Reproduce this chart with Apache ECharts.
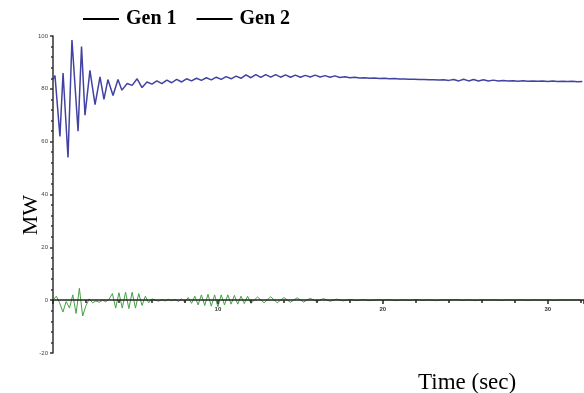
<!DOCTYPE html>
<html>
<head>
<meta charset="utf-8">
<script src="https://cdn.jsdelivr.net/npm/echarts@6/dist/echarts.min.js"></script>
<style>
  html, body { margin: 0; padding: 0; background: #fff; }
  #chart { width: 584px; height: 393px; }
</style>
</head>
<body>
<div id="chart"></div>
<script>
// Gen 1 (blue) - time in sec, power in MW
const gen1Time = [0, 0.12, 0.42, 0.61, 0.91, 1.15, 1.52, 1.73, 1.94, 2.24, 2.55, 2.85, 3.09, 3.33, 3.64, 3.94, 4.18,
  4.5, 4.8, 5.1, 5.4, 5.7, 6.0, 6.3, 6.6, 6.9, 7.2, 7.5, 7.8, 8.1, 8.4, 8.7, 9.0, 9.3, 9.6, 9.9, 10.2,
  10.5, 10.8, 11.1, 11.4, 11.7, 12.0, 12.3, 12.6, 12.9, 13.2, 13.5, 13.8, 14.1, 14.4, 14.7, 15.0,
  15.3, 15.6, 15.9, 16.2, 16.5, 16.8, 17.1, 17.4, 17.7, 18.0, 18.3, 18.6, 18.9, 19.2, 19.5, 19.8,
  20.1, 20.4, 20.7, 21.0, 21.3, 21.6, 21.9, 22.2, 22.5, 22.8, 23.1, 23.4, 23.7, 24.0, 24.3, 24.6,
  24.9, 25.2, 25.5, 25.8, 26.1, 26.4, 26.7, 27.0, 27.3, 27.6, 27.9, 28.2, 28.5, 28.8, 29.1, 29.4,
  29.7, 30.0, 30.3, 30.6, 30.9, 31.2, 31.5, 31.8, 32.1];
const gen1MW = [83.6, 85, 62, 86, 54, 98.5, 64, 96, 70, 87, 74, 84.5, 76, 83.5, 77.5, 83.5, 79.5,
  82, 81.3, 83.8, 80.5, 82.6, 81.8, 83, 82, 83.3, 82.3, 83.6, 82.6, 83.8, 83, 84, 83.2, 84.2, 83.4, 84.4, 83.6,
  84.6, 83.8, 84.8, 84, 85.3, 84.2, 85.4, 84.3, 85.4, 84.4, 85.4, 84.4, 85.3, 84.4, 85.2, 84.4,
  85.1, 84.5, 85.2, 84.5, 85, 84.4, 84.9, 84.3, 84.6, 84.2, 84.4, 84.1, 84.2, 84, 84.1, 83.9,
  84, 83.8, 83.9, 83.7, 83.7, 83.6, 83.6, 83.5, 83.5, 83.4, 83.4, 83.3, 83.4, 83.2, 83.5, 83.0,
  83.6, 83.0, 83.5, 83.0, 83.4, 83.0, 83.3, 83.0, 83.2, 83.0, 83.1, 82.9, 83.1, 82.9, 83.0, 82.9,
  83.0, 82.8, 83.0, 82.8, 82.9, 82.8, 82.9, 82.7, 82.8];

// Gen 2 (green)
const gen2Time = [0, 0.2, 0.4, 0.6, 0.8, 1.0, 1.2, 1.4, 1.6, 1.8, 2.0, 2.2, 2.4, 2.6, 2.8, 3.0, 3.2, 3.4, 3.6, 3.8,
  4.0, 4.2, 4.4, 4.6, 4.8, 5.0, 5.2, 5.4, 5.6, 5.8, 6.0, 6.2, 6.4, 6.6, 6.8, 7.0, 7.2, 7.4, 7.6, 7.8,
  8.0, 8.2, 8.4, 8.6, 8.8, 9.0, 9.2, 9.4, 9.6, 9.8, 10.0, 10.2, 10.4, 10.6, 10.8, 11.0, 11.2, 11.4, 11.6, 11.8,
  12.0, 12.4, 12.8, 13.2, 13.6, 14.0, 14.4, 14.8, 15.2, 15.6, 16.0, 16.4, 16.8, 17.2, 17.6, 18.0,
  18.4, 18.8, 19.2, 19.6, 20.0, 20.4, 20.8, 21.2, 21.6, 22.0, 22.4, 22.8, 23.2, 23.6, 24.0, 24.4,
  24.8, 25.2, 25.6, 26.0, 26.4, 26.8, 27.2, 27.6, 28.0, 28.4, 28.8, 29.2, 29.6, 30.0, 30.4, 30.8,
  31.2, 31.6, 32.0];
const gen2MW = [0, 1.5, -1, -4.5, -0.5, -3, 2, -5, 4.5, -6, -2, 0.5, -1, -0.3, -0.8, 0, -0.6, 0.4, 2.5, -3,
  2.8, -3, 3, -3.2, 3, -3, 2.5, -2, 1.5, -1, 0.5, 0, -0.4, 0.2, -0.3, 0.3, -0.2, 0.3, -0.5, 0.5,
  -0.8, 1, -1.2, 1.5, -1.8, 2, -2, 2.2, -2.3, 2, -2.5, 2, -1.8, 2, -1.5, 1.8, -1.5, 1.5, -1.3, 1.5,
  -1.2, 1.2, -1.0, 1.3, -1.0, 1.0, -0.8, 0.9, -0.7, 0.7, -0.5, 0.6, -0.4, 0.4, -0.3, 0.3,
  -0.2, 0.2, -0.2, 0.1, 0.0, 0.2, -0.2, 0.1, -0.1, 0.2, -0.1, 0.1, -0.2, 0.1, 0.0, 0.2,
  -0.1, 0.1, -0.2, 0.1, 0.0, 0.1, -0.1, 0.1, 0.0, 0.1, -0.1, 0.1, 0.0, 0.1, -0.1, 0.1,
  0.0, 0.1, 0.0];

const seriesNames = ["Gen 1", "Gen 2"];

const pairs = (xs, ys) => xs.map((t, i) => [t, ys[i]]);

const chart = echarts.init(document.getElementById("chart"));

const serif = "'Liberation Serif', 'DejaVu Serif', serif";

const option = {
  animation: false,
  backgroundColor: "#fff",
  grid: { left: 53, top: 36, width: 531, height: 317, containLabel: false },
  legend: {
    data: seriesNames,
    left: 78,
    top: 4,
    icon: "rect",
    itemWidth: 36,
    itemHeight: 2,
    itemGap: 20,
    itemStyle: { color: "#000" },
    textStyle: { fontFamily: serif, fontSize: 20, fontWeight: "bold", color: "#000", padding: [0, 0, 0, 2] },
  },
  xAxis: {
    type: "value",
    min: 0,
    max: 32.2,
    interval: 10,
    z: 5,
    // axis drawn on the zero line: 53px above the grid bottom (-20..0 of 120 units)
    offset: -53,
    axisLine: { onZero: false, lineStyle: { color: "#222", width: 1.5 } },
    axisTick: { show: true, length: 4, lineStyle: { color: "#222", width: 1.5 } },
    minorTick: { show: true, splitNumber: 5, length: 3, lineStyle: { color: "#222", width: 1.5 } },
    splitLine: { show: false },
    axisLabel: { showMinLabel: false, showMaxLabel: false, fontSize: 6, color: "#333", margin: 6, fontWeight: "bold" },
  },
  yAxis: {
    type: "value",
    min: -20,
    max: 100,
    interval: 20,
    axisLine: { show: true, lineStyle: { color: "#333", width: 1.5 } },
    axisTick: { show: true, length: 3, lineStyle: { color: "#333", width: 1.5 } },
    minorTick: { show: true, splitNumber: 5, length: 2, lineStyle: { color: "#333", width: 1.5 } },
    splitLine: { show: false },
    axisLabel: { fontSize: 6, color: "#444", margin: 5 },
  },
  graphic: [
    {
      type: "text",
      left: 20,
      top: 195,
      rotation: Math.PI / 2,
      style: { text: "MW", font: "22px " + serif, fill: "#000" },
    },
    {
      type: "text",
      left: 418,
      top: 371,
      style: { text: "Time (sec)", font: "23px " + serif, fill: "#000" },
    },
  ],
  series: [
    {
      name: seriesNames[0],
      type: "line",
      symbol: "none",
      data: pairs(gen1Time, gen1MW),
      lineStyle: { color: "#4242a2", width: 1.5 },
      itemStyle: { color: "#4242a2" },
      z: 3,
    },
    {
      name: seriesNames[1],
      type: "line",
      symbol: "none",
      data: pairs(gen2Time, gen2MW),
      lineStyle: { color: "#46a046", width: 1 },
      itemStyle: { color: "#46a046" },
      z: 2,
    },
  ],
};

chart.setOption(option);
</script>
</body>
</html>
